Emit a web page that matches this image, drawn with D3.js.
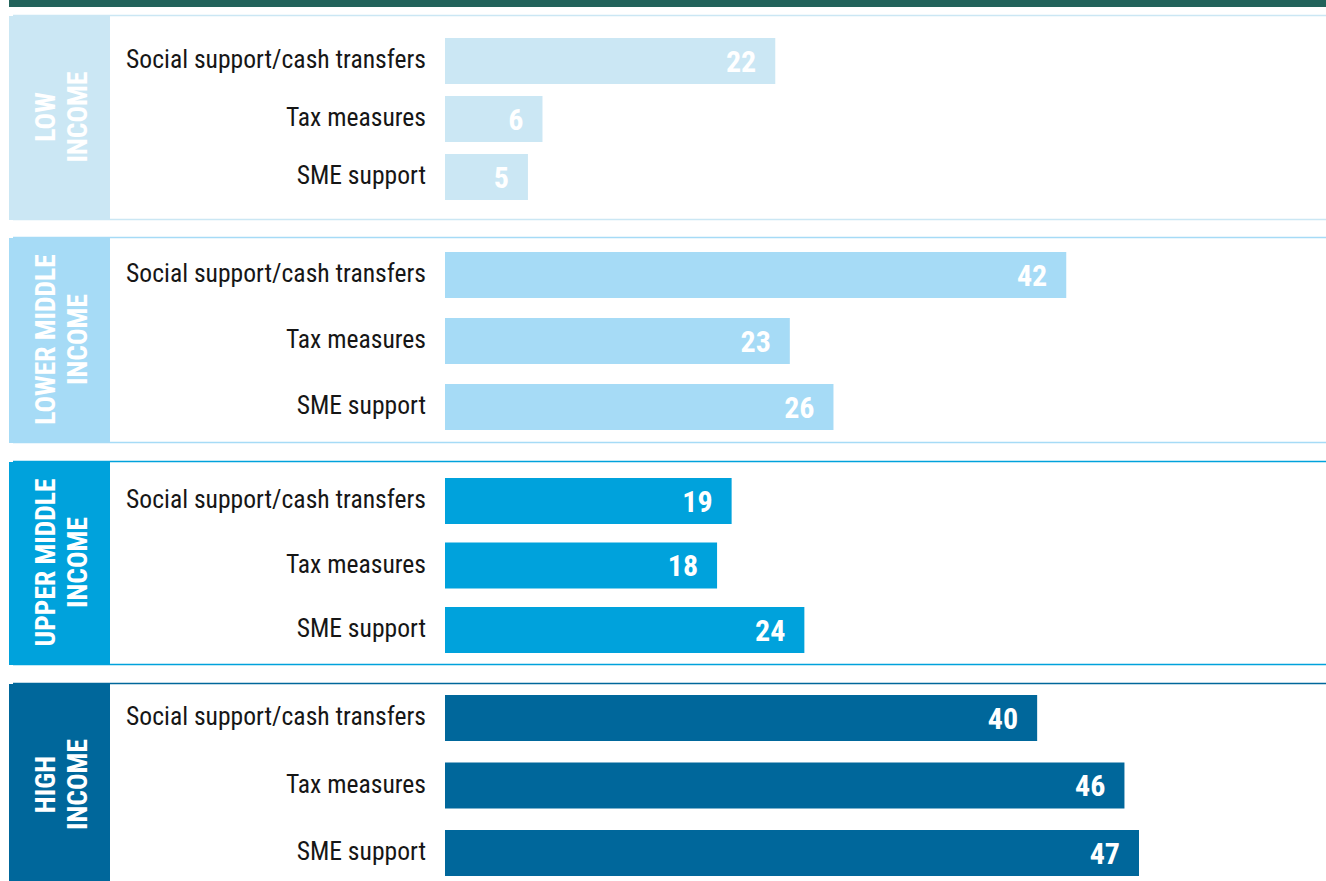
<!DOCTYPE html>
<html>
<head>
<meta charset="utf-8">
<script src="https://cdn.jsdelivr.net/npm/d3@7"></script>
<style>
  html, body { margin: 0; padding: 0; background: #ffffff; }
  svg { display: block; }
</style>
</head>
<body>
<svg id="chart" width="1326" height="881"></svg>
<script>
// ---- data ----
const categories = ["Social support/cash transfers", "Tax measures", "SME support"];
const groupNames = ["LOW INCOME", "LOWER MIDDLE INCOME", "UPPER MIDDLE INCOME", "HIGH INCOME"];
const groupLabelLines = [["LOW", "INCOME"], ["LOWER MIDDLE", "INCOME"], ["UPPER MIDDLE", "INCOME"], ["HIGH", "INCOME"]];
const lowIncome = [22, 6, 5];
const lowerMiddleIncome = [42, 23, 26];
const upperMiddleIncome = [19, 18, 24];
const highIncome = [40, 46, 47];
const groupColors = ["#cbe7f4", "#a6dbf6", "#00a2dc", "#00679b"];

// ---- layout ----
const W = 1326, H = 881;
const panels = [
  { top: 16, bottom: 220, inner: [22, 184] },
  { top: 238, bottom: 443, inner: [14, 192] },
  { top: 462, bottom: 665, inner: [16, 191] },
  { top: 684, bottom: 890, inner: [11, 192] }
];
const seriesByGroup = [lowIncome, lowerMiddleIncome, upperMiddleIncome, highIncome];
const boxX0 = 9, boxX1 = 110;
const barX0 = 445;
const labelFont = "'Liberation Sans Narrow', 'Arial Narrow', 'Roboto Condensed', 'Liberation Sans', sans-serif";

const svg = d3.select("#chart");

// top band
svg.append("rect").attr("x", boxX0).attr("y", 0).attr("width", W - boxX0).attr("height", 7).attr("fill", "#22635b");

const allValues = seriesByGroup.flat();
const x = d3.scaleLinear().domain([-0.7, d3.max(allValues)]).range([barX0, 1139]);

groupNames.forEach((g, gi) => {
  const p = panels[gi];
  const color = groupColors[gi];
  const values = seriesByGroup[gi];
  const gEl = svg.append("g").attr("class", "panel");

  // border lines
  [p.top, p.bottom].forEach(yy => {
    if (yy > H) return;
    gEl.append("line")
      .attr("x1", 13).attr("x2", W)
      .attr("y1", yy - 0.5).attr("y2", yy - 0.5)
      .attr("stroke", color).attr("stroke-width", 1.5);
  });

  // group box
  gEl.append("rect")
    .attr("x", boxX0).attr("y", p.top)
    .attr("width", boxX1 - boxX0).attr("height", Math.min(p.bottom, H + 10) - p.top)
    .attr("fill", color);

  // rotated group label
  const cx = (boxX0 + boxX1) / 2 + 1.5, cy = (p.top + Math.min(p.bottom, H + 6)) / 2 - 1;
  const fs = 27.5;
  const lbl = gEl.append("text")
    .attr("transform", `translate(${cx},${cy}) rotate(-90)`)
    .attr("text-anchor", "middle")
    .attr("fill", "#ffffff")
    .attr("font-family", labelFont)
    .attr("font-weight", "bold")
    .attr("font-size", fs);
  const lines = groupLabelLines[gi];
  lines.forEach((t, li) => {
    const off = (li - (lines.length - 1) / 2) * 32;
    lbl.append("tspan").attr("x", 0).attr("y", off + fs * 0.358).text(t);
  });

  // y band scale
  const y = d3.scaleBand().domain(categories)
    .range([p.top + p.inner[0], p.top + p.inner[1]])
    .paddingInner((function () {
      const span = p.inner[1] - p.inner[0];
      const bw = 46;
      return (span - 3 * bw) / (span - bw);
    })());

  // category labels
  const cfs = 25.6;
  gEl.selectAll("text.cat").data(categories).join("text")
    .attr("class", "cat")
    .attr("x", 426)
    .attr("y", d => y(d) + y.bandwidth() / 2 - 2 + cfs * 0.358)
    .attr("text-anchor", "end")
    .attr("fill", "#161616")
    .attr("font-family", labelFont)
    .attr("font-size", cfs)
    .text(d => d);

  // bars
  gEl.selectAll("rect.bar").data(values).join("rect")
    .attr("class", "bar")
    .attr("x", barX0)
    .attr("y", (d, i) => y(categories[i]))
    .attr("width", d => x(d) - barX0)
    .attr("height", y.bandwidth())
    .attr("fill", color);

  // value labels
  gEl.selectAll("text.val").data(values).join("text")
    .attr("class", "val")
    .attr("x", d => x(d) - 19)
    .attr("y", (d, i) => y(categories[i]) + y.bandwidth() / 2 + 30 * 0.358)
    .attr("text-anchor", "end")
    .attr("fill", "#ffffff")
    .attr("font-family", labelFont)
    .attr("font-weight", "bold")
    .attr("font-size", 30)
    .text(d => d);
});
</script>
</body>
</html>
